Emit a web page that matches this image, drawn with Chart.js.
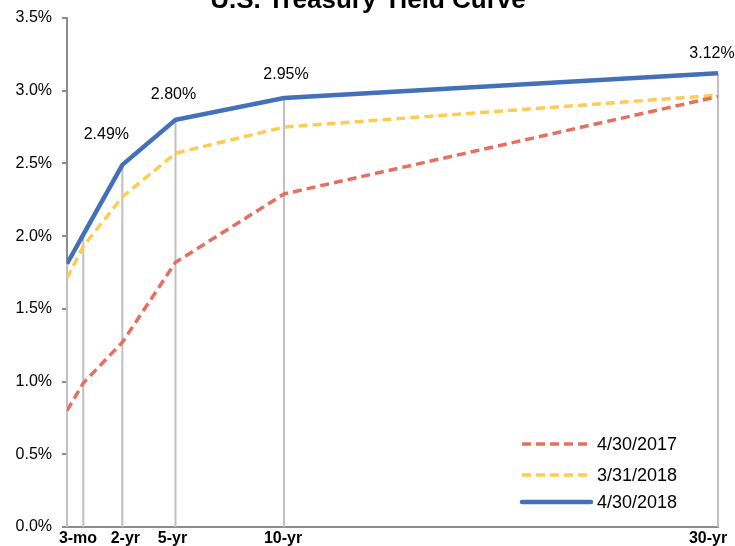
<!DOCTYPE html>
<html>
<head>
<meta charset="utf-8">
<script src="https://cdn.jsdelivr.net/npm/chart.js@4.4.0/dist/chart.umd.min.js"></script>
<style>
  html, body { margin: 0; padding: 0; background: #fff; }
  #wrap { width: 735px; height: 546px; }
</style>
</head>
<body>
<div id="wrap"><canvas id="canvas"></canvas></div>
<script>
// maturity positions on the x axis (years from the 3-mo point, as laid out in the source)
const maturities = [0, 0.75, 2.55, 5, 10, 30];
const tickLabels = ['3-mo', '', '2-yr', '5-yr', '10-yr', '30-yr'];

const yields2017 = [0.80, 0.99, 1.27, 1.82, 2.29, 2.96];
const yieldsMar2018 = [1.71, 1.93, 2.27, 2.57, 2.75, 2.97];
const yieldsApr2018 = [1.81, 2.01, 2.49, 2.80, 2.95, 3.12];

const seriesNames = ['4/30/2017', '3/31/2018', '4/30/2018'];
const pointLabels = ['', '', '2.49%', '2.80%', '2.95%', '3.12%'];

const toPoints = (ys) => ys.map((y, i) => ({ x: maturities[i], y }));

// drop lines from the top series down to the axis
const dropLines = {
  id: 'dropLines',
  beforeDatasetsDraw(chart) {
    const { ctx, chartArea } = chart;
    const meta = chart.getDatasetMeta(2);
    ctx.save();
    ctx.strokeStyle = '#c0c0c0';
    ctx.lineWidth = 2;
    meta.data.forEach(pt => {
      ctx.beginPath();
      ctx.moveTo(pt.x, pt.y);
      ctx.lineTo(pt.x, chartArea.bottom);
      ctx.stroke();
    });
    ctx.restore();
  }
};

const extras = {
  id: 'extras',
  afterDraw(chart) {
    const { ctx } = chart;
    const xs = chart.scales.x;
    ctx.save();

    // title (sits partly above the canvas)
    ctx.fillStyle = '#000';
    ctx.font = 'bold 26px "Liberation Sans", Arial, sans-serif';
    ctx.textAlign = 'center';
    ctx.textBaseline = 'alphabetic';
    ctx.fillText('U.S. Treasury Yield Curve', 368, 8);

    // x tick labels
    const nudge = [11, 0, 3, -3, -1, -10];
    ctx.font = 'bold 16px "Liberation Sans", Arial, sans-serif';
    maturities.forEach((m, i) => {
      if (!tickLabels[i]) return;
      ctx.fillText(tickLabels[i], xs.getPixelForValue(m) + nudge[i], 543);
    });

    // value labels on the latest curve
    const meta = chart.getDatasetMeta(2);
    const off = [[0, 0], [0, 0], [-16, 30], [-2, 25], [2, 23], [-6, 20]];
    ctx.font = '16px "Liberation Sans", Arial, sans-serif';
    ctx.textBaseline = 'middle';
    meta.data.forEach((pt, i) => {
      if (!pointLabels[i]) return;
      ctx.fillText(pointLabels[i], pt.x + off[i][0], pt.y - off[i][1]);
    });

    // legend inside the plot, bottom right
    ctx.textAlign = 'left';
    ctx.font = '18px "Liberation Sans", Arial, sans-serif';
    const rows = [444, 475, 502];
    chart.data.datasets.forEach((ds, i) => {
      const y = rows[i];
      ctx.beginPath();
      ctx.strokeStyle = ds.borderColor;
      ctx.lineWidth = ds.borderWidth;
      ctx.setLineDash(ds.borderDash || []);
      ctx.lineCap = ds.borderDash ? 'butt' : 'round';
      ctx.moveTo(522, y);
      ctx.lineTo(591, y);
      ctx.stroke();
      ctx.setLineDash([]);
      ctx.fillStyle = '#000';
      ctx.fillText(ds.label, 597, y + 1);
    });
    ctx.restore();
  }
};

new Chart(document.getElementById('canvas'), {
  type: 'line',
  data: {
    datasets: [
      {
        label: seriesNames[0],
        data: toPoints(yields2017),
        borderColor: '#e5705f',
        borderWidth: 3.5,
        borderDash: [9, 5],
        pointRadius: 0,
        tension: 0
      },
      {
        label: seriesNames[1],
        data: toPoints(yieldsMar2018),
        borderColor: '#fdcc55',
        borderWidth: 3.5,
        borderDash: [9, 5],
        pointRadius: 0,
        tension: 0
      },
      {
        label: seriesNames[2],
        data: toPoints(yieldsApr2018),
        borderColor: '#4470b8',
        borderWidth: 4.5,
        pointRadius: 0,
        tension: 0
      }
    ]
  },
  options: {
    responsive: true,
    maintainAspectRatio: false,
    animation: false,
    layout: { padding: { top: 16, right: 17, bottom: 0, left: 0 } },
    plugins: {
      legend: { display: false },
      tooltip: { enabled: false }
    },
    scales: {
      x: {
        type: 'linear',
        min: 0,
        max: 30,
        grid: { display: false },
        border: { color: '#8c8c8c', width: 2 },
        ticks: { display: false },
        afterFit: (scale) => { scale.height = 19; }
      },
      y: {
        min: 0,
        max: 3.5,
        grid: { drawOnChartArea: false, color: '#8c8c8c', tickLength: 5, lineWidth: 2 },
        border: { color: '#8c8c8c', width: 2 },
        ticks: {
          stepSize: 0.5,
          color: '#000',
          padding: 10,
          font: { family: '"Liberation Sans", Arial, sans-serif', size: 16, lineHeight: 1 },
          callback: (v) => v.toFixed(1) + '%'
        },
        afterFit: (scale) => { scale.width = 67; }
      }
    }
  },
  plugins: [dropLines, extras]
});
</script>
</body>
</html>
